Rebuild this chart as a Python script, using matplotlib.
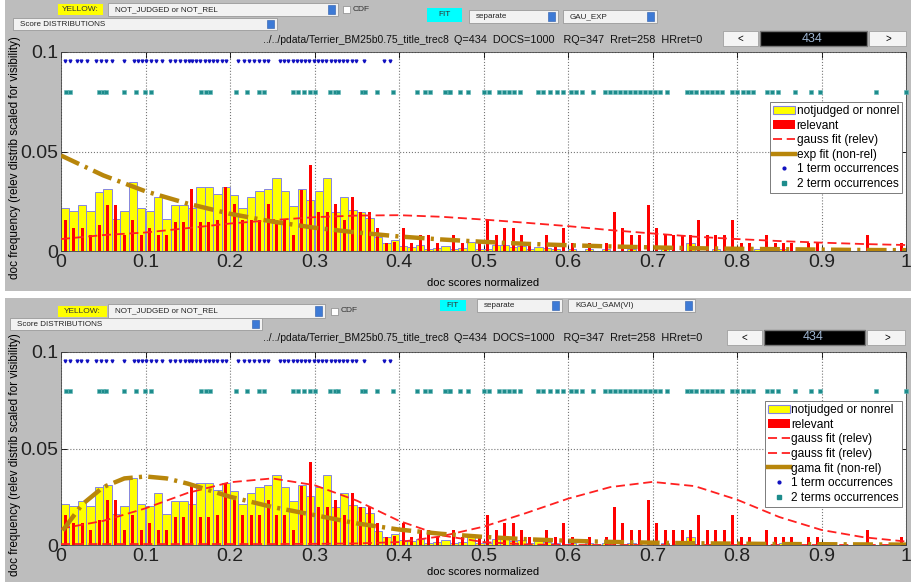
import matplotlib
matplotlib.use("Agg")
import matplotlib.pyplot as plt
from matplotlib.patches import Rectangle, Patch
from matplotlib.lines import Line2D
import numpy as np

plt.rcParams["font.family"] = ["Liberation Sans", "DejaVu Sans"]

W, H = 911, 582

# histogram bins of width 0.01 over [0, 1]
BIN_LEFT = np.arange(100) / 100.0
BIN_MID = BIN_LEFT + 0.005

# not judged / not relevant docs (yellow)
YELLOW = [
    0.0214, 0.0200, 0.0230, 0.0200, 0.0298, 0.0310, 0.0160, 0.0200, 0.0348, 0.0214,
    0.0200, 0.0270, 0.0160, 0.0230, 0.0230, 0.0214, 0.0320, 0.0320, 0.0285, 0.0320,
    0.0280, 0.0214, 0.0270, 0.0300, 0.0310, 0.0365, 0.0300, 0.0228, 0.0310, 0.0256,
    0.0300, 0.0365, 0.0198, 0.0270, 0.0206, 0.0198, 0.0164, 0.0070, 0.0040, 0.0055,
    0.0025, 0.0020, 0.0030, 0.0010, 0.0015, 0.0025, 0.0010, 0.0015, 0.0044, 0.0010,
    0.0010, 0.0030, 0.0030, 0.0020, 0.0025, 0.0010, 0.0020, 0.0015, 0.0010, 0.0,
    0.0010, 0.0, 0.0010, 0.0, 0.0010, 0.0, 0.0, 0.0010, 0.0, 0.0,
    0.0, 0.0010, 0.0, 0.0, 0.0040, 0.0, 0.0, 0.0010, 0.0, 0.0,
    0.0, 0.0, 0.0010, 0.0, 0.0, 0.0010, 0.0, 0.0, 0.0, 0.0,
    0.0, 0.0, 0.0, 0.0, 0.0, 0.0, 0.0, 0.0, 0.0, 0.0,
]

# relevant docs (red, scaled)
RED = [
    0.0155, 0.0115, 0.0115, 0.0078, 0.0130, 0.0233, 0.0233, 0.0078, 0.0155, 0.0078,
    0.0115, 0.0078, 0.0078, 0.0147, 0.0147, 0.0310, 0.0147, 0.0147, 0.0156, 0.0320,
    0.0235, 0.0156, 0.0156, 0.0156, 0.0235, 0.0156, 0.0156, 0.0080, 0.0307, 0.0430,
    0.0198, 0.0198, 0.0235, 0.0156, 0.0270, 0.0198, 0.0198, 0.0114, 0.0039, 0.0047,
    0.0115, 0.0039, 0.0078, 0.0078, 0.0039, 0.0, 0.0078, 0.0039, 0.0, 0.0039,
    0.0155, 0.0078, 0.0115, 0.0115, 0.0078, 0.0039, 0.0, 0.0078, 0.0039, 0.0115,
    0.0039, 0.0, 0.0039, 0.0, 0.0039, 0.0195, 0.0115, 0.0078, 0.0078, 0.0233,
    0.0115, 0.0078, 0.0078, 0.0078, 0.0078, 0.0155, 0.0078, 0.0078, 0.0078, 0.0155,
    0.0039, 0.0039, 0.0, 0.0078, 0.0039, 0.0039, 0.0039, 0.0, 0.0039, 0.0039,
    0.0, 0.0, 0.0, 0.0, 0.0, 0.0078, 0.0, 0.0, 0.0, 0.0039,
]

ONE_TERM = [0.005, 0.011, 0.019, 0.024, 0.031, 0.042, 0.047, 0.053, 0.060, 0.074,
            0.086, 0.091, 0.096, 0.101, 0.107, 0.113, 0.119, 0.129, 0.135, 0.141,
            0.147, 0.151, 0.155, 0.160, 0.165, 0.170, 0.175, 0.180, 0.185, 0.190,
            0.195, 0.210, 0.216, 0.222, 0.228, 0.234, 0.240, 0.245, 0.259, 0.264,
            0.269, 0.274, 0.279, 0.284, 0.289, 0.294, 0.299, 0.304, 0.309, 0.314,
            0.319, 0.324, 0.329, 0.334, 0.339, 0.344, 0.349, 0.358, 0.382, 0.389]
TWO_TERM = [0.006, 0.011, 0.045, 0.050, 0.053, 0.075, 0.089, 0.099, 0.107, 0.166,
            0.172, 0.176, 0.207, 0.220, 0.234, 0.240, 0.275, 0.281, 0.287, 0.295,
            0.301, 0.318, 0.324, 0.328, 0.356, 0.360, 0.374, 0.393, 0.421, 0.431,
            0.437, 0.455, 0.459, 0.460, 0.472, 0.482, 0.500, 0.506, 0.518, 0.524,
            0.530, 0.536, 0.543, 0.565, 0.571, 0.579, 0.587, 0.594, 0.604, 0.610,
            0.616, 0.630, 0.644, 0.650, 0.656, 0.662, 0.667, 0.673, 0.679, 0.685,
            0.691, 0.697, 0.703, 0.709, 0.717, 0.741, 0.746, 0.752, 0.758, 0.764,
            0.770, 0.776, 0.782, 0.794, 0.800, 0.807, 0.813, 0.819, 0.835, 0.841,
            0.849, 0.869, 0.888, 0.898, 0.965, 1.000]

FIT_X = [0.0, 0.05, 0.1, 0.15, 0.2, 0.25, 0.3, 0.35, 0.4, 0.45, 0.5,
         0.55, 0.6, 0.65, 0.7, 0.75, 0.8, 0.85, 0.9, 0.95, 1.0]
# top panel fits
GAUSS_TOP = [0.0060, 0.0080, 0.0093, 0.0115, 0.0138, 0.0155, 0.0170, 0.0178, 0.0180, 0.0172, 0.0158,
             0.0142, 0.0125, 0.0105, 0.0088, 0.0072, 0.0060, 0.0050, 0.0042, 0.0035, 0.0030]
EXP_TOP = [0.0480, 0.0380, 0.0300, 0.0238, 0.0187, 0.0148, 0.0117, 0.0093, 0.0073, 0.0058, 0.0046,
           0.0036, 0.0029, 0.0023, 0.0018, 0.0014, 0.0011, 0.0009, 0.0007, 0.0005, 0.0004]
# bottom panel fits
GAUSS1_BOT = [0.0085, 0.0125, 0.0190, 0.0270, 0.0325, 0.0345, 0.0310, 0.0230, 0.0125, 0.0050, 0.0015,
              0.0003, 0.0, 0.0, 0.0, 0.0, 0.0, 0.0, 0.0, 0.0, 0.0]
GAUSS2_BOT = [0.0005, 0.0005, 0.0005, 0.0005, 0.0005, 0.0005, 0.0006, 0.0008, 0.0015, 0.0045, 0.0095,
              0.0165, 0.0240, 0.0300, 0.0327, 0.0305, 0.0235, 0.0145, 0.0078, 0.0040, 0.0018]
GAMMA_X = [0.002, 0.025, 0.05, 0.075, 0.1, 0.125, 0.15, 0.2, 0.25, 0.3, 0.35, 0.4, 0.45,
           0.5, 0.55, 0.6, 0.65, 0.7, 0.75, 0.8, 0.85, 0.9, 0.95, 1.0]
GAMMA_BOT = [0.0075, 0.0210, 0.0300, 0.0345, 0.0355, 0.0345, 0.0318, 0.0250, 0.0197, 0.0155, 0.0112,
             0.0080, 0.0058, 0.0042, 0.0030, 0.0022, 0.0016, 0.0012, 0.0009, 0.0007, 0.0005,
             0.0004, 0.0003, 0.0002]

XTICKS = [0, 0.1, 0.2, 0.3, 0.4, 0.5, 0.6, 0.7, 0.8, 0.9, 1.0]
XTICKLABELS = ["0", "0.1", "0.2", "0.3", "0.4", "0.5", "0.6", "0.7", "0.8", "0.9", "1"]
YTICKS = [0, 0.05, 0.1]
YTICKLABELS = ["0", "0.05", "0.1"]

GRAY = "#bdbdbd"
BROWN = "#b8860b"
TEAL = "#1d8c8c"
BAR_EDGE = "#8585e0"

fig = plt.figure(figsize=(W / 100, H / 100), dpi=100)
fig.patch.set_facecolor("white")


def rect(x0, y0, x1, y1, **kw):
    r = Rectangle((x0 / W, 1 - y1 / H), (x1 - x0) / W, (y1 - y0) / H,
                  transform=fig.transFigure, **kw)
    fig.add_artist(r)


def txt(x, y, s, **kw):
    fig.text(x / W, 1 - y / H, s, va="center", **kw)


def dropdown(x0, y0, x1, y1, label):
    rect(x0, y0, x1, y1, facecolor="#f2f2f2", edgecolor="#9a9a9a", linewidth=0.6)
    rect(x1 - 10, y0 + 2, x1 - 3, y1 - 2, facecolor="#3d7ad6", edgecolor="#2a5aa8", linewidth=0.4)
    txt(x0 + 7, (y0 + y1) / 2, label, fontsize=5.8, color="#222222")


def widgets(p):
    rect(*p["yellow"], facecolor="#ffff00", edgecolor="none")
    yl = p["yellow"]
    txt((yl[0] + yl[2]) / 2, (yl[1] + yl[3]) / 2, "YELLOW:", fontsize=6, ha="center", color="#333333")
    dropdown(*p["judged"], "NOT_JUDGED or NOT_REL")
    jd = p["judged"]
    cb = p["cdf"]
    cy = (jd[1] + jd[3]) / 2
    rect(cb, cy - 3.5, cb + 7, cy + 3.5, facecolor="white", edgecolor="#888888", linewidth=0.5)
    txt(cb + 10, cy, "CDF", fontsize=6, color="#333333")
    ft = p["fit"]
    rect(*ft, facecolor="#00ffff", edgecolor="none")
    txt((ft[0] + ft[2]) / 2, (ft[1] + ft[3]) / 2, "FIT", fontsize=6, ha="center", color="#333333")
    dropdown(*p["separate"], "separate")
    dropdown(*p["model"], p["model_label"])
    dropdown(*p["score"], "Score DISTRIBUTIONS")
    txt(p["path_x"], p["info_y"], "../../pdata/Terrier_BM25b0.75_title_trec8", fontsize=7.5,
        ha="right", color="#111111")
    txt(p["path_x"] + 5, p["info_y"], "Q=434  DOCS=1000   RQ=347  Rret=258  HRret=0", fontsize=7.8,
        color="#111111")
    # buttons: (lt_x0, y0, lt_x1, y1, box_x1, gt_x1)
    b = p["buttons"]
    rect(b[0], b[1], b[2], b[3], facecolor="#f4f4f4", edgecolor="#a0a0a0", linewidth=0.6)
    txt((b[0] + b[2]) / 2, (b[1] + b[3]) / 2, "<", fontsize=7, ha="center")
    rect(b[2] + 2, b[1], b[4], b[3], facecolor="black", edgecolor="#777777", linewidth=1.0)
    txt((b[2] + b[4]) / 2, (b[1] + b[3]) / 2, "434", fontsize=9, ha="center", color="#9fb6d2")
    rect(b[4] + 2, b[1], b[5], b[3], facecolor="#f4f4f4", edgecolor="#a0a0a0", linewidth=0.6)
    txt((b[4] + b[5]) / 2 + 2, (b[1] + b[3]) / 2, ">", fontsize=7, ha="center")


def plot_panel(ax, fits, two_label, legend_anchor):
    ax.set_facecolor("white")
    ax.bar(BIN_LEFT, YELLOW, width=0.01, align="edge", color="#ffff00",
           edgecolor=BAR_EDGE, linewidth=0.7, zorder=2)
    ax.bar(BIN_MID, RED, width=0.0035, color="#ff0000", linewidth=0, zorder=3)
    handles = [Patch(facecolor="#ffff00", edgecolor=BAR_EDGE, linewidth=0.8, label="notjudged or nonrel"),
               Patch(facecolor="#ff0000", edgecolor="none", label="relevant")]
    for fx, fy, kind, label in fits:
        if kind == "gauss":
            ax.plot(fx, fy, color="#ff2020", linestyle=(0, (5, 2.6)), linewidth=1.3, zorder=4)
            handles.append(Line2D([], [], color="#ff2020", linestyle=(0, (5, 2.6)), linewidth=1.3, label=label))
        else:
            ax.plot(fx, fy, color=BROWN, linestyle=(0, (4.5, 1.4, 0.7, 1.4)), linewidth=3.2,
                    zorder=5, solid_capstyle="butt")
            handles.append(Line2D([], [], color=BROWN, linewidth=3.2, label=label))
    ax.plot(ONE_TERM, [0.0955] * len(ONE_TERM), linestyle="none", marker="v", markersize=2.0,
            color="#1010c0", zorder=6)
    ax.plot(TWO_TERM, [0.0797] * len(TWO_TERM), linestyle="none", marker="s", markersize=2.6,
            markerfacecolor=TEAL, markeredgecolor="#5fb5b5", markeredgewidth=0.4, zorder=6,
            clip_on=False)
    handles.append(Line2D([], [], linestyle="none", marker=".", markersize=4, color="#1010c0",
                          label="1 term occurrences"))
    handles.append(Line2D([], [], linestyle="none", marker="s", markersize=3, color=TEAL,
                          label=two_label))
    ax.set_xlim(0, 1)
    ax.set_ylim(0, 0.1)
    ax.set_xticks(XTICKS)
    ax.set_xticklabels(XTICKLABELS)
    ax.set_yticks(YTICKS)
    ax.set_yticklabels(YTICKLABELS)
    ax.tick_params(direction="in", length=4, width=0.6, labelsize=14, pad=2, top=True, right=True,
                   labelcolor="#222222")
    ax.grid(True, linestyle=":", color="#777777", linewidth=0.8, zorder=0)
    ax.set_axisbelow(True)
    for s in ax.spines.values():
        s.set_linewidth(0.6)
        s.set_color("#444444")
    leg = ax.legend(handles=handles, loc="upper right", bbox_to_anchor=legend_anchor,
                    fontsize=8.6, frameon=True, fancybox=False, framealpha=1,
                    edgecolor="#666666", borderpad=0.25, labelspacing=0.22,
                    handlelength=1.8, handletextpad=0.15, borderaxespad=0)
    leg.get_frame().set_linewidth(0.6)
    leg.set_zorder(10)


# panel backgrounds, kept behind the axes
rect(5, 0, 911, 291, facecolor=GRAY, edgecolor="none", zorder=-10)
rect(5, 298, 911, 582, facecolor=GRAY, edgecolor="none", zorder=-10)

widgets({"yellow": (58, 4, 103, 15), "judged": (108, 3, 338, 16), "cdf": 343,
         "fit": (427, 8, 462, 22), "separate": (469, 10, 558, 23), "model": (563, 10, 657, 23),
         "model_label": "GAU_EXP", "score": (13, 18, 277, 30), "path_x": 449, "info_y": 40,
         "buttons": (723, 31, 758, 46, 867, 906)})
widgets({"yellow": (58, 306, 107, 317), "judged": (108, 304, 325, 318), "cdf": 331,
         "fit": (440, 300, 466, 311), "separate": (477, 299, 562, 312), "model": (568, 299, 695, 312),
         "model_label": "KGAU_GAM(VI)", "score": (10, 318, 262, 330), "path_x": 449, "info_y": 338,
         "buttons": (727, 330, 762, 345, 865, 905)})

ax1 = fig.add_axes([61 / W, 1 - 251 / H, 845 / W, 199 / H])
plot_panel(ax1, [(FIT_X, GAUSS_TOP, "gauss", "gauss fit (relev)"),
                 (FIT_X, EXP_TOP, "brown", "exp fit (non-rel)")],
           "2 term occurrences", (0.9953, 0.749))
ax1.set_xlabel("doc scores normalized", fontsize=8, labelpad=0)
ax1.xaxis.set_label_coords(0.5, -0.136)
ax1.set_ylabel("doc frequency (relev distrib scaled for visibility)", fontsize=8.5)
ax1.yaxis.set_label_coords(-0.047, 0.47)

ax2 = fig.add_axes([61 / W, 1 - 545 / H, 845 / W, 193 / H])
plot_panel(ax2, [(FIT_X, GAUSS1_BOT, "gauss", "gauss fit (relev)"),
                 (FIT_X, GAUSS2_BOT, "gauss", "gauss fit (relev)"),
                 (GAMMA_X, GAMMA_BOT, "brown", "gama fit (non-rel)")],
           "2 terms occurrences", (0.9953, 0.746))
ax2.set_xlabel("doc scores normalized", fontsize=8, labelpad=0)
ax2.xaxis.set_label_coords(0.5, -0.114)
ax2.set_ylabel("doc frequency (relev distrib scaled for visibility)", fontsize=8.5)
ax2.yaxis.set_label_coords(-0.047, 0.47)

fig.savefig("out.png", dpi=100)
